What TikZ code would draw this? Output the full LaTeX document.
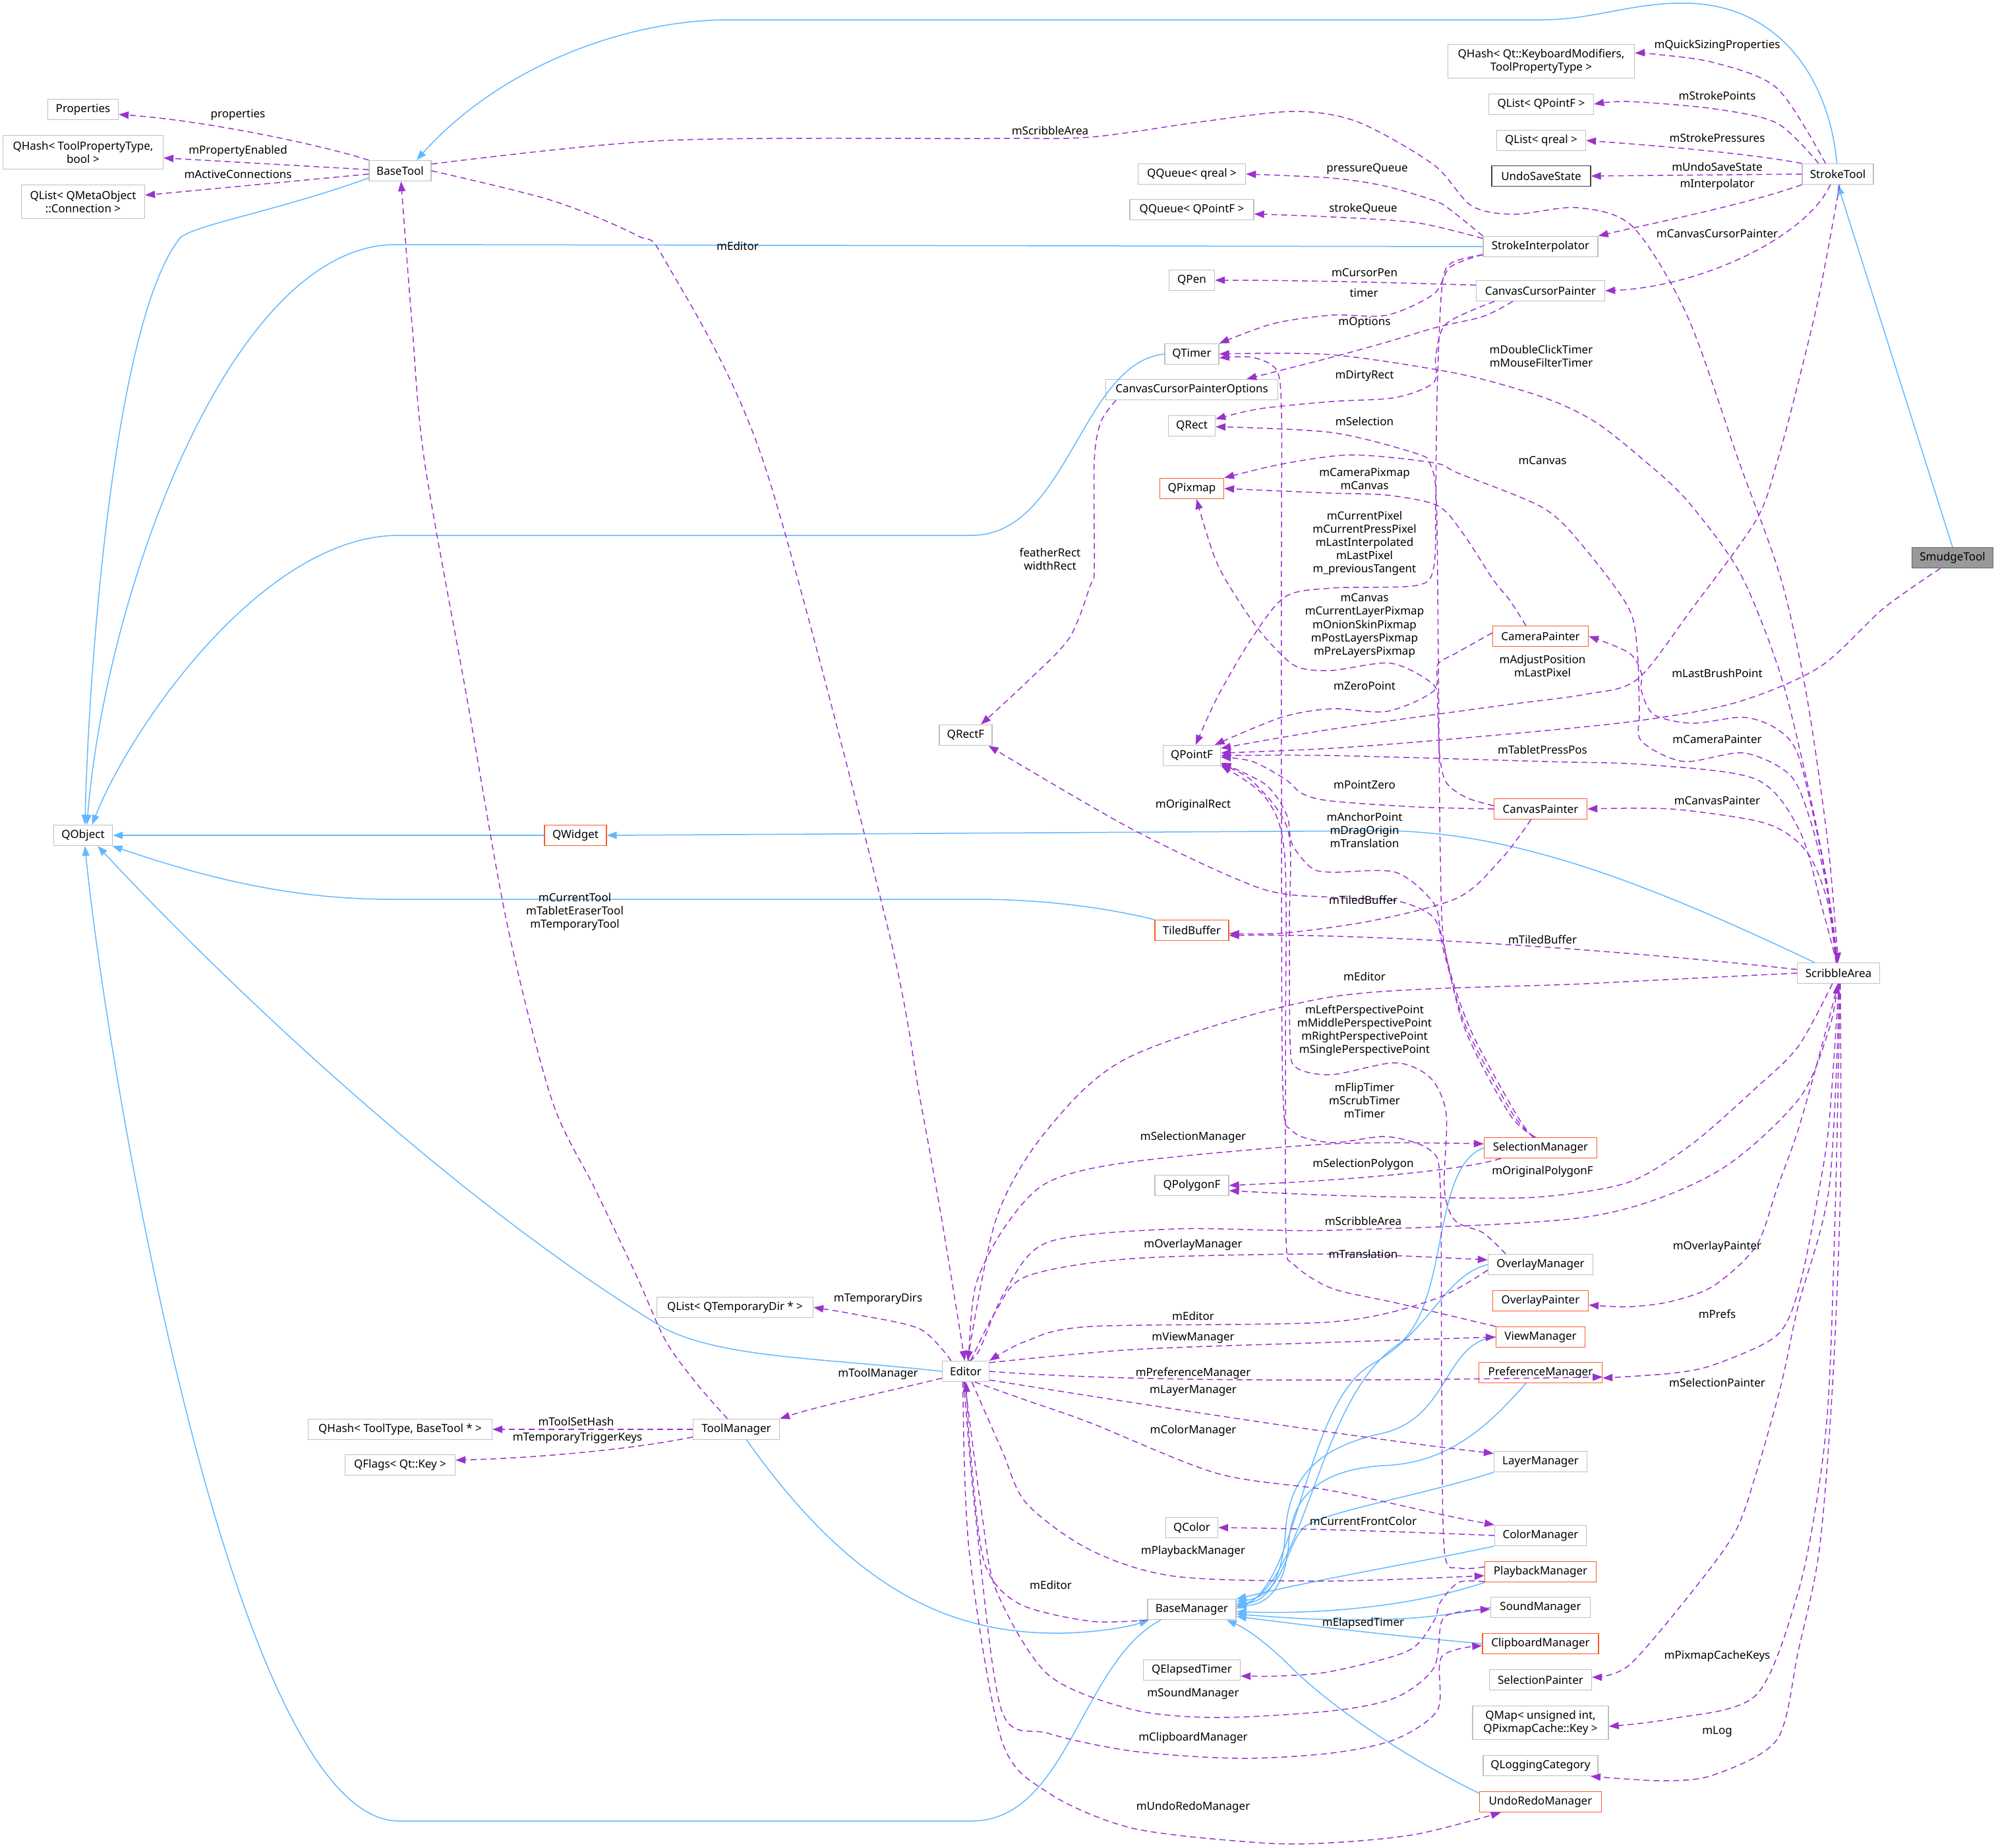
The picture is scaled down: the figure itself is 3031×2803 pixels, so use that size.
\documentclass[tikz,border=0pt]{standalone}
\usepackage{fontspec}
\setmainfont{Noto Sans}
\usetikzlibrary{arrows.meta}
\definecolor{edgeblue}{HTML}{63B8FF}
\definecolor{edgepurple}{HTML}{9A32CD}
\definecolor{nodegray}{HTML}{BFBFBF}
\definecolor{truncred}{HTML}{FF5A26}
\definecolor{smudgefill}{HTML}{999999}
\definecolor{smudgeline}{HTML}{666666}
\definecolor{darkline}{HTML}{404040}
\newcommand\dxf{\fontsize{17}{20.2}\selectfont}
\begin{document}
\begin{tikzpicture}[x=1pt,y=-1pt,
  cls/.style={draw=nodegray, line width=1.3pt, fill=white, minimum height=31pt, inner sep=1pt, font=\dxf, align=center},
  tr/.style={draw=truncred},
  inh/.style={edgeblue, line width=1.5pt, -{Triangle[length=15pt,width=11pt]}},
  dep/.style={edgepurple, line width=1.5pt, dash pattern=on 9pt off 6pt, -{Triangle[length=15pt,width=11pt]}},
  lab/.style={font=\dxf, align=center, inner sep=0pt}]
\useasboundingbox (0,0) rectangle (3031,2803);

% ---------------- nodes ----------------
\node[cls, fill=smudgefill, draw=smudgeline, minimum width=123pt] (smudge) at (2962,846) {SmudgeTool};
\node[cls, minimum width=108pt] (stroketool) at (2788,264) {StrokeTool};
\node[cls, minimum width=283pt, minimum height=51pt] (qhashkm) at (2338,93) {QHash< Qt::KeyboardModifiers,\\ToolPropertyType >};
\node[cls, minimum width=159pt] (qlistpf) at (2338,158) {QList< QPointF >};
\node[cls, minimum width=135pt] (qlistqr) at (2338,213) {QList< qreal >};
\node[cls, draw=darkline, minimum width=150pt] (undosave) at (2338,267) {UndoSaveState};
\node[cls, minimum width=174pt] (strokeinterp) at (2337,374) {StrokeInterpolator};
\node[cls, minimum width=195pt] (ccp) at (2337,441) {CanvasCursorPainter};
\node[cls, minimum width=94pt] (basetool) at (607,259) {BaseTool};
\node[cls, minimum width=107pt] (properties) at (126,166) {Properties};
\node[cls, minimum width=243pt, minimum height=51pt] (qhashtpb) at (126,231) {QHash< ToolPropertyType,\\bool >};
\node[cls, minimum width=187pt, minimum height=51pt] (qlistconn) at (126,306) {QList< QMetaObject\\::Connection >};
\node[cls, minimum width=163pt] (qqreal) at (1808,264) {QQueue< qreal >};
\node[cls, minimum width=188pt] (qqpf) at (1808,318) {QQueue< QPointF >};
\node[cls, minimum width=69pt] (qpen) at (1808,425) {QPen};
\node[cls, minimum width=82pt] (qtimer) at (1808,537) {QTimer};
\node[cls, minimum width=261pt] (ccpo) at (1808,591) {CanvasCursorPainterOptions};
\node[cls, minimum width=71pt] (qrect) at (1808,646) {QRect};
\node[cls, tr, minimum width=97pt] (qpixmap) at (1808,741) {QPixmap};
\node[cls, tr, minimum width=145pt] (camerapainter) at (2337,965) {CameraPainter};
\node[cls, minimum width=80pt] (qrectf) at (1465,1115) {QRectF};
\node[cls, minimum width=87pt] (qpointf) at (1808,1146) {QPointF};
\node[cls, tr, minimum width=141pt] (canvaspainter) at (2337,1227) {CanvasPainter};
\node[cls, minimum width=89pt] (qobject) at (126,1267) {QObject};
\node[cls, tr, minimum width=94pt] (qwidget) at (873,1267) {QWidget};
\node[cls, tr, minimum width=112pt] (tiledbuffer) at (1808,1411) {TiledBuffer};
\node[cls, minimum width=125pt] (scribble) at (2789,1476) {ScribbleArea};
\node[cls, tr, minimum width=171pt] (selmgr) at (2337,1741) {SelectionManager};
\node[cls, minimum width=112pt] (qpolygonf) at (1808,1798) {QPolygonF};
\node[cls, minimum width=159pt] (overlaymgr) at (2337,1918) {OverlayManager};
\node[cls, tr, minimum width=145pt] (overlaypainter) at (2337,1973) {OverlayPainter};
\node[cls, tr, minimum width=135pt] (viewmgr) at (2337,2028) {ViewManager};
\node[cls, tr, minimum width=187pt] (prefmgr) at (2337,2082) {PreferenceManager};
\node[cls, minimum width=237pt] (qlisttmp) at (1115,1983) {QList< QTemporaryDir * >};
\node[cls, minimum width=71pt] (editor) at (1465,2080) {Editor};
\node[cls, minimum width=131pt] (toolmgr) at (1117,2168) {ToolManager};
\node[cls, minimum width=279pt] (qhashtt) at (607,2168) {QHash< ToolType, BaseTool * >};
\node[cls, minimum width=167pt] (qflags) at (607,2222) {QFlags< Qt::Key >};
\node[cls, minimum width=141pt] (layermgr) at (2337,2217) {LayerManager};
\node[cls, minimum width=79pt] (qcolor) at (1808,2317) {QColor};
\node[cls, minimum width=139pt] (colormgr) at (2337,2329) {ColorManager};
\node[cls, tr, minimum width=169pt] (playbackmgr) at (2337,2384) {PlaybackManager};
\node[cls, minimum width=134pt] (basemgr) at (1808,2441) {BaseManager};
\node[cls, minimum width=151pt] (soundmgr) at (2337,2438) {SoundManager};
\node[cls, minimum width=147pt] (qelapsed) at (1808,2533) {QElapsedTimer};
\node[cls, tr, minimum width=176pt] (clipboardmgr) at (2337,2493) {ClipboardManager};
\node[cls, minimum width=155pt] (selpainter) at (2337,2548) {SelectionPainter};
\node[cls, minimum width=206pt, minimum height=51pt] (qmap) at (2337,2613) {QMap< unsigned int,\\QPixmapCache::Key >};
\node[cls, minimum width=174pt] (qlogging) at (2337,2678) {QLoggingCategory};
\node[cls, tr, minimum width=185pt] (undoredo) at (2337,2733) {UndoRedoManager};

% ---------------- inheritance (blue) ----------------
\draw[inh] (smudge.north) -- (stroketool.south);
\draw[inh] (stroketool.95) .. controls (2775,120) and (2700,10) .. (2564,5) .. controls (2480,2) and (2420,30) .. (2340,30) -- (1107,30) .. controls (950,30) and (760,100) .. (basetool.33);
\draw[inh] (basetool.193) .. controls (420,320) and (300,340) .. (274,360) .. controls (175,480) and (135,1000) .. (qobject.80);
\draw[inh] (strokeinterp.west) -- (600,371) .. controls (350,371) and (160,900) .. (qobject.70);
\draw[inh] (qtimer.west) .. controls (1640,550) and (1620,812) .. (1474,812) -- (605,812) .. controls (400,812) and (200,1100) .. (qobject.50);
\draw[inh] (qwidget.west) -- (qobject.east);
\draw[inh] (tiledbuffer.north west) .. controls (1650,1370) and (1550,1364) .. (1480,1364) -- (592,1364) .. controls (420,1364) and (280,1320) .. (qobject.-20);
\draw[inh] (editor.west) .. controls (1250,2060) and (1100,2060) .. (1010,2016) .. controls (700,1830) and (350,1500) .. (qobject.-36);
\draw[inh] (basemgr.-161) .. controls (1640,2520) and (1620,2762) .. (1474,2762) -- (605,2762) .. controls (350,2762) and (160,1600) .. (qobject.-80);
\draw[inh] (scribble.156) .. controls (2500,1340) and (2300,1262) .. (2100,1260) -- (qwidget.east);
\draw[inh] (toolmgr.-46) .. controls (1300,2420) and (1450,2480) .. (1615,2477) .. controls (1680,2475) and (1720,2465) .. (basemgr.-166);
\draw[inh] (selmgr.west) .. controls (2170,1770) and (2200,1980) .. (2120,2040) .. controls (2000,2120) and (1980,2400) .. (basemgr.3);
\draw[inh] (overlaymgr.west) .. controls (2190,1935) and (2170,2020) .. (2080,2070) .. controls (1980,2130) and (1970,2400) .. (basemgr.1);
\draw[inh] (viewmgr.west) .. controls (2190,2035) and (2200,2150) .. (2097,2174) .. controls (2000,2195) and (1955,2240) .. (1950,2324) .. controls (1945,2400) and (1920,2430) .. (basemgr.7);
\draw[inh] (prefmgr.-144) .. controls (2260,2160) and (2200,2220) .. (2097,2223) .. controls (2000,2230) and (1960,2270) .. (1955,2340) .. controls (1950,2410) and (1920,2435) .. (basemgr.5);
\draw[inh] (layermgr.south west) .. controls (2150,2270) and (2020,2290) .. (1980,2315) .. controls (1950,2340) and (1950,2420) .. (basemgr.10);
\draw[inh] (colormgr.south west) .. controls (2150,2370) and (2000,2395) .. (basemgr.13);
\draw[inh] (playbackmgr.south west) .. controls (2180,2425) and (2050,2450) .. (basemgr.-3);
\draw[inh] (soundmgr.west) .. controls (2150,2460) and (2050,2462) .. (basemgr.-6);
\draw[inh] (clipboardmgr.west) .. controls (2100,2480) and (1980,2465) .. (basemgr.-9);
\draw[inh] (undoredo.172) .. controls (2120,2660) and (2010,2580) .. (1960,2530) .. controls (1920,2490) and (1890,2470) .. (basemgr.-17);

% ---------------- members (purple dashed) ----------------
\draw[dep] (basetool.north west) .. controls (470,215) and (300,182) .. (properties.-8);
\draw[dep] (basetool.178) -- (qhashtpb.-4);
\draw[dep] (basetool.186) -- (qlistconn.6);
\draw[dep] plot[smooth] coordinates {(basetool.12) (1010,213) (1500,210) (1654,208) (1820,185) (1963,169) (2060,185) (2175,250) (2232,312) (2297,325) (2393,315) (2477,344) (2560,480) (2638,700) (2702,879) (2741,1057) (2773,1280) (scribble.92)};
\draw[dep] plot[smooth] coordinates {(basetool.east) (837,304) (966,357) (1010,397) (1158,700) (1345,1400) (1396,1668) (1428,1846) (editor.95)};
\draw[dep] plot[smooth] coordinates {(stroketool.139) (2696,134) (2600,95) (2509,82) (qhashkm.5)};
\draw[dep] plot[smooth] coordinates {(stroketool.151) (2696,187) (2600,165) (2471,154) (qlistpf.east)};
\draw[dep] (stroketool.north west) .. controls (2650,232) and (2500,220) .. (qlistqr.east);
\draw[dep] (stroketool.west) -- (undosave.east);
\draw[dep] (stroketool.south west) .. controls (2650,310) and (2500,340) .. (strokeinterp.north east);
\draw[dep] (stroketool.-125) .. controls (2740,360) and (2580,435) .. (ccp.east);
\draw[dep] plot[smooth] coordinates {(stroketool.-80) (2760,446) (2728,580) (2696,700) (2664,789) (2567,923) (2484,1030) (2406,1053) (2278,1070) (2020,1106) (qpointf.14)};
\draw[dep] plot[smooth] coordinates {(smudge.-139) (2857,923) (2760,1012) (2632,1066) (2471,1095) (2213,1120) (2020,1135) (qpointf.5)};
\draw[dep] plot[smooth] coordinates {(strokeinterp.north west) (2200,318) (2175,304) (2100,282) (2020,270) (qqreal.east)};
\draw[dep] plot[smooth] coordinates {(strokeinterp.172) (2150,338) (2020,329) (qqpf.-4)};
\draw[dep] plot[smooth] coordinates {(strokeinterp.188) (2200,405) (2175,446) (2104,478) (2020,478) (1931,491) (qtimer.north east)};
\draw[dep] plot[smooth] coordinates {(strokeinterp.-172) (2200,400) (2187,440) (2180,600) (2178,760) (2175,860) (2149,888) (2020,892) (1950,905) (1899,968) (1847,1057) (qpointf.70)};
\draw[dep] (ccp.175) .. controls (2150,430) and (2000,425) .. (qpen.east);
\draw[dep] plot[smooth] coordinates {(ccp.-159) (2250,480) (2181,496) (2100,520) (2020,542) (ccpo.11)};
\draw[dep] plot[smooth] coordinates {(ccp.-167) (2194,491) (2178,540) (2175,580) (2117,603) (2020,609) (1911,620) (qrect.16)};
\draw[dep] plot[smooth] coordinates {(scribble.97) (2770,1330) (2740,1180) (2700,1020) (2640,870) (2560,760) (2496,700) (2420,640) (2342,603) (2213,567) (2020,538) (qtimer.east)};
\draw[dep] plot[smooth] coordinates {(selmgr.125) (2300,1690) (2230,1560) (2192,1440) (2185,1300) (2182,1000) (2179,760) (2170,705) (2149,688) (2020,656) (qrect.-2)};
\draw[dep] plot[smooth] coordinates {(scribble.99) (2770,1340) (2745,1240) (2715,1175) (2645,1142) (2554,1155) (2490,1124) (2487,1079) (2484,990) (2471,923) (2406,834) (2342,771) (2213,718) (2175,702) (2050,690) (1944,704) (qpixmap.north east)};
\draw[dep] plot[smooth] coordinates {(camerapainter.144) (2290,910) (2265,879) (2220,810) (2181,767) (2104,751) (2020,748) (qpixmap.east)};
\draw[dep] plot[smooth] coordinates {(canvaspainter.176) (2225,1210) (2194,1187) (2184,1146) (2181,1079) (2175,1039) (2110,1006) (2020,1017) (1969,1012) (1937,986) (1899,941) (1847,856) (qpixmap.-66)};
\draw[dep] plot[smooth] coordinates {(camerapainter.176) (2210,990) (2181,1008) (2175,1048) (2104,1079) (2020,1075) (1944,1088) (qpointf.25)};
\draw[dep] plot[smooth] coordinates {(canvaspainter.west) (2150,1224) (2020,1215) (1976,1204) (1950,1182) (1900,1155) (qpointf.-3)};
\draw[dep] plot[smooth] coordinates {(scribble.100) (2765,1380) (2730,1260) (2664,1182) (2500,1160) (2342,1155) (2020,1146) (qpointf.east)};
\draw[dep] plot[smooth] coordinates {(scribble.98) (2780,1396) (2760,1280) (2728,1146) (2696,1106) (2645,1088) (2567,1097) (2509,1084) (2490,1048) (2490,1021) (2471,990) (camerapainter.east)};
\draw[dep] plot[smooth] coordinates {(scribble.103) (2773,1370) (2748,1303) (2715,1267) (2664,1245) (2535,1227) (canvaspainter.east)};
\draw[dep] plot[smooth] coordinates {(selmgr.120) (2295,1690) (2225,1560) (2192,1450) (2175,1392) (2117,1366) (2020,1361) (1911,1347) (1718,1258) (qrectf.-25)};
\draw[dep] plot[smooth] coordinates {(selmgr.115) (2290,1690) (2222,1560) (2187,1420) (2175,1370) (2117,1323) (2020,1323) (1989,1316) (1960,1280) (1952,1236) (1920,1190) (qpointf.-14)};
\draw[dep] plot[smooth] coordinates {(canvaspainter.-132) (2280,1300) (2213,1361) (2084,1396) (1950,1415) (tiledbuffer.-5)};
\draw[dep] (scribble.175) .. controls (2500,1445) and (2100,1415) .. (tiledbuffer.-8);
\draw[dep] plot[smooth] coordinates {(scribble.west) (2406,1492) (2020,1512) (1718,1601) (1590,1712) (1512,1846) (editor.80)};
\draw[dep] plot[smooth] coordinates {(overlaymgr.163) (2250,1870) (2207,1851) (2191,1802) (2194,1690) (2170,1635) (2117,1612) (2020,1630) (1966,1619) (1957,1579) (1956,1400) (1954,1260) (1900,1185) (qpointf.-17)};
\draw[dep] plot[smooth] coordinates {(playbackmgr.175) (2213,2378) (2191,2351) (2187,2100) (2185,1800) (2170,1745) (2104,1724) (2020,1733) (1960,1715) (1946,1650) (1944,1200) (1944,800) (1944,625) (1937,562) (1900,542) (qtimer.-8)};
\draw[dep] plot[smooth] coordinates {(viewmgr.north west) (2117,1976) (2020,1954) (1963,1918) (1951,1880) (1950,1600) (1949,1300) (1920,1210) (qpointf.-19)};
\draw[dep] plot[smooth] coordinates {(editor.75) (1480,1950) (1525,1860) (1590,1793) (1718,1762) (2020,1735) (selmgr.176)};
\draw[dep] (selmgr.-165) .. controls (2220,1775) and (2050,1790) .. (qpolygonf.east);
\draw[dep] plot[smooth] coordinates {(scribble.-120) (2728,1587) (2664,1650) (2567,1735) (2471,1793) (2342,1815) (2213,1817) (2020,1813) (qpolygonf.-8)};
\draw[dep] plot[smooth] coordinates {(editor.70) (1486,2047) (1525,1958) (1590,1884) (1783,1864) (2020,1866) (2406,1846) (2600,1780) (2728,1668) (2775,1560) (scribble.-95)};
\draw[dep] plot[smooth] coordinates {(editor.65) (1510,1990) (1557,1936) (1718,1909) (2020,1902) (overlaymgr.175)};
\draw[dep] plot[smooth] coordinates {(overlaymgr.-174) (2175,1971) (2020,2005) (1654,2012) (1557,2034) (editor.north east)};
\draw[dep] plot[smooth] coordinates {(editor.20) (1718,2047) (2020,2036) (viewmgr.west)};
\draw[dep] (editor.east) .. controls (1700,2095) and (2000,2096) .. (prefmgr.-4);
\draw[dep] (editor.-20) .. controls (1700,2125) and (2050,2180) .. (layermgr.170);
\draw[dep] plot[smooth] coordinates {(editor.-50) (1560,2125) (1654,2158) (1847,2235) (2020,2261) (2200,2300) (colormgr.167)};
\draw[dep] plot[smooth] coordinates {(editor.-60) (1520,2200) (1557,2280) (1654,2351) (1783,2391) (2020,2398) (playbackmgr.-176)};
\draw[dep] plot[smooth] coordinates {(basemgr.south west) (1654,2459) (1545,2432) (1493,2369) (1472,2200) (editor.-88)};
\draw[dep] plot[smooth] coordinates {(editor.-95) (1490,2300) (1512,2414) (1590,2540) (1718,2593) (1847,2605) (2020,2595) (2117,2575) (2175,2530) (2187,2459) (2213,2445) (soundmgr.-178)};
\draw[dep] plot[smooth] coordinates {(editor.-100) (1480,2300) (1519,2593) (1590,2629) (1718,2656) (1879,2667) (2020,2659) (2117,2638) (2181,2593) (2187,2513) (clipboardmgr.-178)};
\draw[dep] plot[smooth] coordinates {(editor.-105) (1470,2350) (1519,2638) (1590,2719) (1718,2773) (1911,2795) (2020,2795) (2149,2782) (undoredo.-165)};
\draw[dep] plot[smooth] coordinates {(editor.144) (1396,2016) (1300,1994) (qlisttmp.east)};
\draw[dep] (editor.-164) .. controls (1350,2110) and (1250,2130) .. (toolmgr.north east);
\draw[dep] (toolmgr.west) -- (qhashtt.east);
\draw[dep] (toolmgr.-170) .. controls (950,2200) and (800,2212) .. (qflags.5);
\draw[dep] plot[smooth] coordinates {(toolmgr.130) (1058,2100) (1010,2034) (966,1936) (902,1802) (837,1668) (769,1400) (708,1057) (644,700) (625,491) (basetool.-85)};
\draw[dep] (colormgr.west) .. controls (2100,2322) and (1950,2318) .. (qcolor.east);
\draw[dep] plot[smooth] coordinates {(playbackmgr.-170) (2213,2400) (2185,2430) (2175,2459) (2136,2504) (2020,2535) (1944,2542) (qelapsed.-7)};
\draw[dep] plot[smooth] coordinates {(scribble.-92) (2760,1600) (2728,1713) (2696,1802) (2664,1890) (2600,1950) (2535,1974) (2471,1982) (overlaypainter.-5)};
\draw[dep] plot[smooth] coordinates {(scribble.-88) (2775,1700) (2760,1802) (2730,1950) (2696,2025) (2600,2070) (2535,2083) (prefmgr.-5)};
\draw[dep] plot[smooth] coordinates {(scribble.-85) (2775,1800) (2728,1980) (2702,2100) (2664,2235) (2632,2324) (2567,2414) (2471,2526) (selpainter.3)};
\draw[dep] plot[smooth] coordinates {(scribble.-82) (2785,1800) (2775,2100) (2760,2250) (2728,2414) (2664,2571) (2535,2607) (qmap.-3)};
\draw[dep] plot[smooth] coordinates {(scribble.-80) (2792,1800) (2780,2100) (2760,2350) (2728,2504) (2696,2638) (2600,2692) (2522,2701) (qlogging.-12)};
\draw[dep] plot[smooth] coordinates {(ccpo.-172) (1670,640) (1660,700) (1660,865) (1654,888) (1622,968) (1557,1035) (qrectf.35)};

% ---------------- labels ----------------
\node[lab] (l01) at (361,174) {properties};
\node[lab] (l02) at (361,229) {mPropertyEnabled};
\node[lab] (l03) at (361,264) {mActiveConnections};
\node[lab] (l04) at (1593,198) {mScribbleArea};
\node[lab] (l05) at (1119,373) {mEditor};
\node[lab] (l06) at (2605,69) {mQuickSizingProperties};
\node[lab] (l07) at (2605,145) {mStrokePoints};
\node[lab] (l08) at (2605,209) {mStrokePressures};
\node[lab] (l09) at (2605,253) {mUndoSaveState};
\node[lab] (l10) at (2605,280) {mInterpolator};
\node[lab] (l11) at (2074,256) {pressureQueue};
\node[lab] (l12) at (2068,316) {strokeQueue};
\node[lab] (l13) at (2605,354) {mCanvasCursorPainter};
\node[lab] (l14) at (2070,413) {mCursorPen};
\node[lab] (l15) at (2069,444) {timer};
\node[lab] (l16) at (2070,489) {mOptions};
\node[lab] (l17) at (2338,540) {mDoubleClickTimer\\mMouseFilterTimer};
\node[lab] (l18) at (2070,570) {mDirtyRect};
\node[lab] (l19) at (2070,639) {mSelection};
\node[lab] (l20) at (2340,698) {mCanvas};
\node[lab] (l21) at (2070,726) {mCameraPixmap\\mCanvas};
\node[lab] (l22) at (1593,848) {featherRect\\widthRect};
\node[lab] (l23) at (2070,824) {mCurrentPixel\\mCurrentPressPixel\\mLastInterpolated\\mLastPixel\\m\_previousTangent};
\node[lab] (l24) at (2070,949) {mCanvas\\mCurrentLayerPixmap\\mOnionSkinPixmap\\mPostLayersPixmap\\mPreLayersPixmap};
\node[lab] (l25) at (2340,1010) {mAdjustPosition\\mLastPixel};
\node[lab] (l26) at (2605,1021) {mLastBrushPoint};
\node[lab] (l27) at (2070,1040) {mZeroPoint};
\node[lab] (l28) at (2605,1121) {mCameraPainter};
\node[lab] (l29) at (2340,1137) {mTabletPressPos};
\node[lab] (l30) at (2070,1190) {mPointZero};
\node[lab] (l31) at (2605,1214) {mCanvasPainter};
\node[lab] (l32) at (1810,1221) {mOriginalRect};
\node[lab] (l33) at (2070,1259) {mAnchorPoint\\mDragOrigin\\mTranslation};
\node[lab] (l34) at (2068,1365) {mTiledBuffer};
\node[lab] (l35) at (872,1383) {mCurrentTool\\mTabletEraserTool\\mTemporaryTool};
\node[lab] (l36) at (2340,1425) {mTiledBuffer};
\node[lab] (l37) at (2070,1481) {mEditor};
\node[lab] (l38) at (2070,1563) {mLeftPerspectivePoint\\mMiddlePerspectivePoint\\mRightPerspectivePoint\\mSinglePerspectivePoint};
\node[lab] (l39) at (2070,1669) {mFlipTimer\\mScrubTimer\\mTimer};
\node[lab] (l40) at (1810,1725) {mSelectionManager};
\node[lab] (l41) at (2068,1766) {mSelectionPolygon};
\node[lab] (l42) at (2340,1777) {mOriginalPolygonF};
\node[lab] (l43) at (2068,1852) {mScribbleArea};
\node[lab] (l44) at (1810,1888) {mOverlayManager};
\node[lab] (l45) at (2068,1902) {mTranslation};
\node[lab] (l46) at (2605,1891) {mOverlayPainter};
\node[lab] (l47) at (1332,1970) {mTemporaryDirs};
\node[lab] (l48) at (2605,1993) {mPrefs};
\node[lab] (l49) at (1810,1996) {mEditor};
\node[lab] (l50) at (1810,2029) {mViewManager};
\node[lab] (l51) at (1332,2084) {mToolManager};
\node[lab] (l52) at (1810,2083) {mPreferenceManager};
\node[lab] (l53) at (2605,2097) {mSelectionPainter};
\node[lab] (l54) at (1810,2109) {mLayerManager};
\node[lab] (l55) at (874,2156) {mToolSetHash};
\node[lab] (l56) at (876,2181) {mTemporaryTriggerKeys};
\node[lab] (l57) at (1810,2170) {mColorManager};
\node[lab] (l58) at (2068,2307) {mCurrentFrontColor};
\node[lab] (l59) at (1810,2353) {mPlaybackManager};
\node[lab] (l60) at (1594,2404) {mEditor};
\node[lab] (l61) at (2068,2462) {mElapsedTimer};
\node[lab] (l62) at (2605,2512) {mPixmapCacheKeys};
\node[lab] (l63) at (1810,2569) {mSoundManager};
\node[lab] (l64) at (2605,2626) {mLog};
\node[lab] (l65) at (1810,2636) {mClipboardManager};
\node[lab] (l66) at (1810,2741) {mUndoRedoManager};
\end{tikzpicture}
\end{document}
